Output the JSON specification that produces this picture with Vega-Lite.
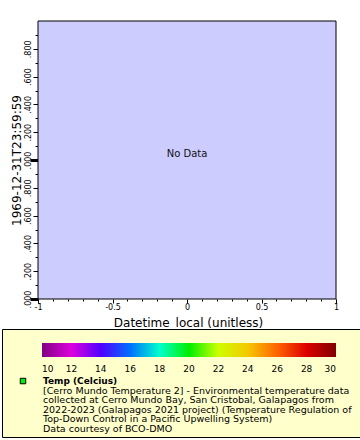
{
  "$schema": "https://vega.github.io/schema/vega-lite/v6.json",
  "background": "white",
  "padding": {"left": 1, "top": 20, "right": 0, "bottom": 0},
  "columns": 1,
  "spacing": 0,
  "resolve": {"legend": {"color": "independent"}},
  "config": {
    "font": "DejaVu Sans",
    "view": {"stroke": null, "fill": null},
    "axis": {"labelFont": "DejaVu Sans", "titleFont": "DejaVu Sans", "titleFontWeight": "normal", "labelColor": "black", "titleColor": "black", "tickColor": "black", "domainColor": "black", "grid": false, "labelFlush": false, "labelOverlap": false},
    "legend": {"labelFont": "DejaVu Sans", "labelColor": "black"}
  },
  "concat": [
    {
      "width": 334,
      "height": 278,
      "data": {"values": [{"x": 0, "t": 0, "label": "No Data"}]},
      "resolve": {"axis": {"x": "independent", "y": "independent"}},
      "layer": [
        {
          "mark": {"type": "rect", "fill": "#ccccff", "stroke": "black", "strokeWidth": 1},
          "encoding": {
            "x": {"datum": -1, "type": "quantitative", "scale": {"domain": [-1, 1], "range": [36, 334], "nice": false, "zero": false},
              "axis": {"orient": "bottom", "values": [-1, -0.5, 0, 0.5, 1], "labelExpr": "'' + datum.value", "labelFontSize": 8, "tickSize": 4, "labelPadding": 0, "domain": false, "title": "Datetime_local (unitless)", "titleX": 186, "titleFontSize": 12, "titlePadding": 6}},
            "x2": {"datum": 1}
          }
        },
        {
          "mark": {"type": "text", "fontSize": 10, "color": "#111111", "baseline": "middle", "dy": -6},
          "encoding": {
            "x": {"field": "x", "type": "quantitative",
              "axis": {"orient": "bottom", "values": [-0.9, -0.8, -0.7, -0.6, -0.4, -0.3, -0.2, -0.1, 0.1, 0.2, 0.3, 0.4, 0.6, 0.7, 0.8, 0.9], "labels": false, "domain": false, "tickSize": 2, "title": null}},
            "y": {"field": "t", "type": "quantitative", "scale": {"domain": [-1000, 1000], "nice": false, "zero": false},
              "axis": {"orient": "left", "offset": -36, "values": [-1000, -800, -600, -400, -200, 0, 200, 400, 600, 800], "labelExpr": "'.' + slice('00' + ((datum.value + 1000) % 1000), -3)", "labelAngle": -90, "labelFontSize": 8, "tickSize": 5, "labelPadding": 1, "labelBound": false, "domain": false, "title": "1969-12-31T23:59:59", "titleFontSize": 12, "titlePadding": 1}},
            "text": {"field": "label"}
          }
        },
        {
          "mark": {"type": "point", "opacity": 0},
          "encoding": {
            "x": {"field": "x", "type": "quantitative",
              "axis": {"orient": "bottom", "values": [-1, 1], "labels": false, "domain": false, "tickSize": 4, "title": null}},
            "y": {"field": "t", "type": "quantitative",
              "axis": {"orient": "left", "offset": -36, "values": [-900, -700, -500, -300, -100, 100, 300, 500, 700, 900], "labels": false, "domain": false, "tickSize": 3, "title": null}}
          }
        },
        {
          "mark": {"type": "point", "opacity": 0},
          "encoding": {
            "y": {"field": "t", "type": "quantitative",
              "axis": {"orient": "left", "offset": -36, "values": [-1000, 0], "labels": false, "domain": false, "tickSize": 8, "tickWidth": 3, "title": null}}
          }
        }
      ]
    },
    {
      "width": 358,
      "height": 108,
      "view": {"fill": "#ffffcc", "stroke": "black"},
      "data": {"values": [
        {"line": 0, "text": "Temp (Celcius)"},
        {"line": 1, "text": "[Cerro Mundo Temperature 2] - Environmental temperature data"},
        {"line": 2, "text": "collected at Cerro Mundo Bay, San Cristobal, Galapagos from"},
        {"line": 3, "text": "2022-2023 (Galapagos 2021 project) (Temperature Regulation of"},
        {"line": 4, "text": "Top-Down Control in a Pacific Upwelling System)"},
        {"line": 5, "text": "Data courtesy of BCO-DMO"}
      ]},
      "layer": [
        {
          "transform": [{"filter": "datum.line == 0"}],
          "mark": {"type": "square", "size": 30, "filled": true, "stroke": "black", "strokeWidth": 1, "opacity": 1},
          "encoding": {
            "x": {"datum": "key", "type": "nominal", "scale": {"type": "point", "domain": ["key", "text"], "range": [21, 41], "padding": 0}, "axis": null},
            "y": {"field": "line", "type": "quantitative", "scale": {"domain": [-5.42, 5.83], "reverse": true, "nice": false, "zero": false}, "axis": null},
            "color": {"datum": 20, "type": "quantitative",
              "scale": {"type": "linear", "domain": [10, 12, 14, 16, 18, 20, 22, 24, 26, 28, 30], "range": ["#800080", "#dd00dd", "#5000ff", "#0070ff", "#00ffcc", "#00ee00", "#ccff00", "#f5c800", "#ff6400", "#dd0000", "#800000"], "interpolate": "rgb"},
              "legend": {"orient": "none", "legendX": 40, "legendY": 14, "direction": "horizontal", "gradientLength": 294, "gradientThickness": 14, "gradientStrokeWidth": 0, "title": null, "values": [10, 12, 14, 16, 18, 20, 22, 24, 26, 28, 30], "labelFontSize": 9, "labelAlign": "center", "labelOffset": 8, "labelOverlap": false, "padding": 0}}
          }
        },
        {
          "transform": [{"filter": "datum.line == 0"}],
          "mark": {"type": "text", "align": "left", "baseline": "middle", "fontSize": 9, "fontWeight": "bold", "color": "black"},
          "encoding": {
            "x": {"datum": "text", "type": "nominal"},
            "y": {"field": "line", "type": "quantitative"},
            "text": {"field": "text"}
          }
        },
        {
          "transform": [{"filter": "datum.line > 0"}],
          "mark": {"type": "text", "align": "left", "baseline": "middle", "fontSize": 9.5, "color": "black"},
          "encoding": {
            "x": {"datum": "text", "type": "nominal"},
            "y": {"field": "line", "type": "quantitative"},
            "text": {"field": "text"}
          }
        }
      ]
    }
  ]
}
